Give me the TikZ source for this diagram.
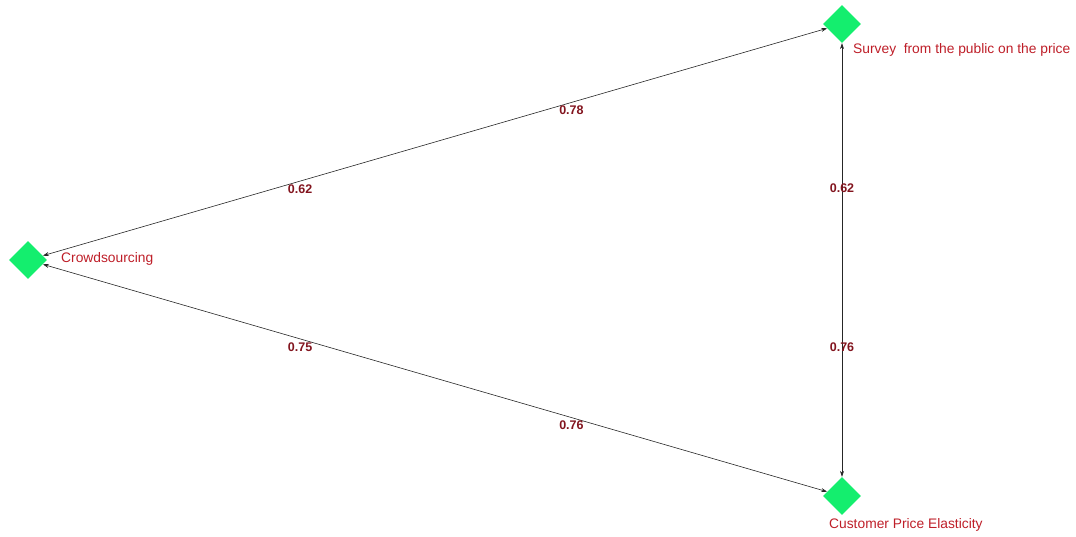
\documentclass[tikz,border=0pt]{standalone}
\usepackage{fontspec}
\setmainfont{Liberation Sans}
\usetikzlibrary{shapes.geometric,arrows.meta}
\definecolor{nodegreen}{RGB}{20,238,110}
\definecolor{labred}{RGB}{190,30,40}
\definecolor{edgered}{RGB}{130,20,30}
\tikzset{
  dia/.style={diamond,aspect=1,fill=nodegreen,draw=none,inner sep=0pt,minimum width=38pt,minimum height=38pt},
  nlab/.style={anchor=west,text=labred,font=\fontsize{13.8}{16}\selectfont,inner sep=0pt},
  link/.style={{Stealth[length=6pt,width=4pt]}-{Stealth[length=6pt,width=4pt]},draw=black!85,line width=0.6pt},
  elab/.style={text=edgered,font=\bfseries\fontsize{12.5}{14}\selectfont,inner sep=1pt}
}
\begin{document}
\begin{tikzpicture}[x=1pt,y=-1pt]
\useasboundingbox (0,0) rectangle (1076,537);
\node[dia] (c) at (28,260) {};
\node[dia] (s) at (842,24) {};
\node[dia] (p) at (842,496) {};
\node[nlab] (cl) at (61,259) {Crowdsourcing};
\node[nlab] (sl) at (853,50) {Survey\ \ from the public on the price};
\node[nlab] (pl) at (829,525) {Customer Price Elasticity};
\draw[link] (c) -- (s)
  node[elab,pos=0.328,yshift=-8pt] (l1) {0.62}
  node[elab,pos=0.674,yshift=-8pt] (l2) {0.78};
\draw[link] (s) -- (p)
  node[elab,pos=0.334] (l3) {0.62}
  node[elab,pos=0.70] (l4) {0.76};
\draw[link] (c) -- (p)
  node[elab,pos=0.328,yshift=-8pt] (l5) {0.75}
  node[elab,pos=0.674,yshift=-8pt] (l6) {0.76};
\end{tikzpicture}
\end{document}
